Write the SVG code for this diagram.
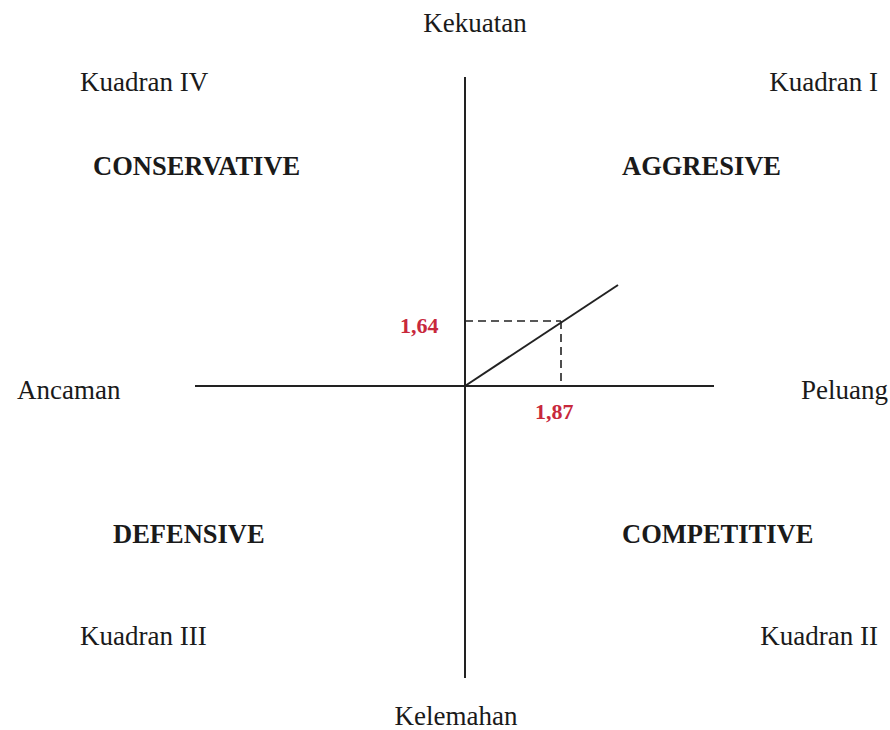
<svg xmlns="http://www.w3.org/2000/svg" width="890" height="730" viewBox="0 0 890 730">
<style>
.t{font-family:"Liberation Serif","Times New Roman",serif;font-size:27px;fill:#1a1a1a}
.b{font-family:"Liberation Serif","Times New Roman",serif;font-size:26.5px;font-weight:bold;fill:#1a1a1a}
.r{font-family:"Liberation Serif","Times New Roman",serif;font-size:22px;font-weight:bold;fill:#c8283c}
.ax{stroke:#222;stroke-width:2;fill:none}
.d{stroke:#222;stroke-width:1.6;stroke-dasharray:8 5;fill:none}
</style>
<rect width="890" height="730" fill="#fff"/>
<g id="connectors">
<line class="ax" x1="465" y1="77" x2="465" y2="678"/>
<line class="ax" x1="195" y1="386" x2="714" y2="386"/>
<line class="ax" x1="465" y1="386" x2="618" y2="285"/>
<line class="d" x1="465" y1="321" x2="561" y2="321"/>
<line class="d" x1="561" y1="321" x2="561" y2="386"/>
</g>
<g id="kekuatan"><text class="t" x="475" y="32" text-anchor="middle">Kekuatan</text></g>
<g id="kelemahan"><text class="t" x="456" y="725" text-anchor="middle">Kelemahan</text></g>
<g id="ancaman"><text class="t" x="17" y="399">Ancaman</text></g>
<g id="peluang"><text class="t" x="888" y="399" text-anchor="end">Peluang</text></g>
<g id="kuadran4"><text class="t" x="80" y="91">Kuadran IV</text></g>
<g id="kuadran1"><text class="t" x="878" y="91" text-anchor="end">Kuadran I</text></g>
<g id="kuadran3"><text class="t" x="80" y="645">Kuadran III</text></g>
<g id="kuadran2"><text class="t" x="878" y="645" text-anchor="end">Kuadran II</text></g>
<g id="conservative"><text class="b" x="93" y="175">CONSERVATIVE</text></g>
<g id="aggresive"><text class="b" x="622" y="175">AGGRESIVE</text></g>
<g id="defensive"><text class="b" x="113" y="543">DEFENSIVE</text></g>
<g id="competitive"><text class="b" x="622" y="543">COMPETITIVE</text></g>
<g id="v164"><text class="r" x="400" y="333">1,64</text></g>
<g id="v187"><text class="r" x="535" y="419">1,87</text></g>
</svg>
